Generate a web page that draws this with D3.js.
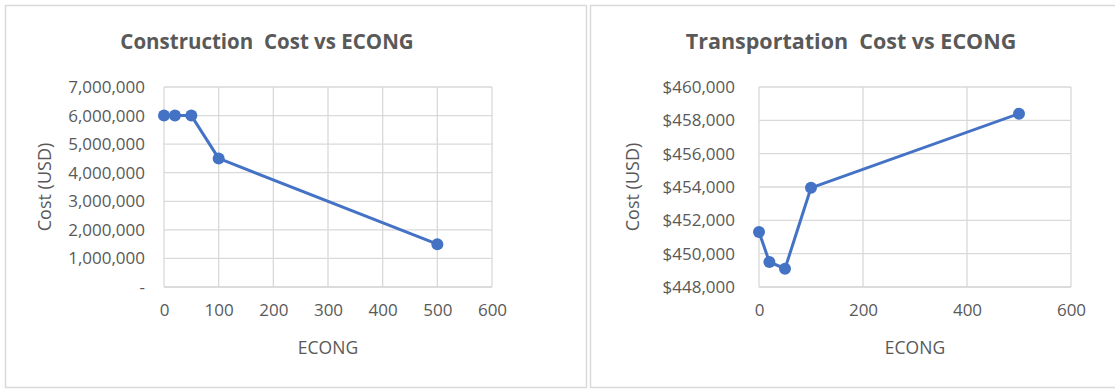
<!DOCTYPE html>
<html>
<head>
<meta charset="utf-8">
<script src="https://cdn.jsdelivr.net/npm/d3@7"></script>
<style>
  html, body { margin: 0; padding: 0; background: #fff; }
  svg { display: block; }
  text { font-family: "Open Sans", "Noto Sans", sans-serif; }
</style>
</head>
<body>
<svg id="chart" width="1115" height="390"></svg>
<script>
// ECONG values shared by both panels
const econg = [0, 20, 50, 100, 500];
// Construction cost (USD) for each ECONG value
const constructionCost = [6000000, 6000000, 6000000, 4500000, 1500000];
// Transportation cost (USD) for each ECONG value
const transportationCost = [451300, 449500, 449100, 453950, 458400];
// Axis ticks
const constructionYTicks = [0, 1000000, 2000000, 3000000, 4000000, 5000000, 6000000, 7000000];
const constructionXTicks = [0, 100, 200, 300, 400, 500, 600];
const transportationYTicks = [448000, 450000, 452000, 454000, 456000, 458000, 460000];
const transportationXTicks = [0, 200, 400, 600];

const svg = d3.select("#chart");
const lineColor = "#4472C4";
const gridColor = "#d9d9d9";
const textColor = "#595959";

// Panel frames
svg.append("rect").attr("x", 5.5).attr("y", 5.5).attr("width", 581).attr("height", 382)
  .attr("fill", "#fff").attr("stroke", "#d9d9d9").attr("stroke-width", 1.5);
svg.append("rect").attr("x", 590.5).attr("y", 5.5).attr("width", 530).attr("height", 382)
  .attr("fill", "#fff").attr("stroke", "#d9d9d9").attr("stroke-width", 1.5);

function drawPanel(cfg) {
  const g = svg.append("g");
  const x = d3.scaleLinear().domain([cfg.xTicks[0], cfg.xTicks[cfg.xTicks.length - 1]])
    .range([cfg.left, cfg.right]);
  const y = d3.scaleLinear().domain([cfg.yTicks[0], cfg.yTicks[cfg.yTicks.length - 1]])
    .range([cfg.bottom, cfg.top]);

  // Horizontal gridlines
  g.append("g").selectAll("line").data(cfg.yTicks).join("line")
    .attr("x1", cfg.left).attr("x2", cfg.right)
    .attr("y1", d => y(d)).attr("y2", d => y(d))
    .attr("stroke", gridColor).attr("stroke-width", 1.3);
  // Vertical gridlines
  g.append("g").selectAll("line").data(cfg.xTicks).join("line")
    .attr("x1", d => x(d)).attr("x2", d => x(d))
    .attr("y1", cfg.top).attr("y2", cfg.bottom)
    .attr("stroke", gridColor).attr("stroke-width", 1.3);

  // Y axis
  const yAxis = d3.axisLeft(y).tickValues(cfg.yTicks).tickSize(0).tickPadding(cfg.yPad)
    .tickFormat(cfg.yFormat);
  const ya = g.append("g").attr("transform", `translate(${cfg.left},0)`).call(yAxis);
  ya.select(".domain").remove();
  ya.selectAll("text").attr("fill", textColor).style("font-size", cfg.tickSize + "px")
    .style("font-family", '"Open Sans", sans-serif');

  // X axis
  const xAxis = d3.axisBottom(x).tickValues(cfg.xTicks).tickSize(0).tickPadding(cfg.xPad);
  const xa = g.append("g").attr("transform", `translate(0,${cfg.bottom})`).call(xAxis);
  xa.select(".domain").remove();
  xa.selectAll("text").attr("fill", textColor).style("font-size", cfg.tickSize + "px")
    .style("font-family", '"Open Sans", sans-serif');

  // Axis baseline
  g.append("line").attr("x1", cfg.left).attr("x2", cfg.right)
    .attr("y1", cfg.bottom).attr("y2", cfg.bottom)
    .attr("stroke", gridColor).attr("stroke-width", 1.3);

  // Series line and markers
  const pts = cfg.xs.map((v, i) => [v, cfg.ys[i]]);
  g.append("path").datum(pts)
    .attr("d", d3.line().x(d => x(d[0])).y(d => y(d[1])))
    .attr("fill", "none").attr("stroke", lineColor).attr("stroke-width", 3)
    .attr("stroke-linejoin", "round");
  g.append("g").selectAll("circle").data(pts).join("circle")
    .attr("cx", d => x(d[0])).attr("cy", d => y(d[1])).attr("r", 6)
    .attr("fill", lineColor);

  // Title
  g.append("text").attr("x", cfg.titleX).attr("y", 49).attr("text-anchor", "middle")
    .attr("fill", textColor).style("font-size", cfg.titleSize + "px").style("font-weight", "bold")
    .style("white-space", "pre").text(cfg.title);
  // Axis titles
  g.append("text").attr("x", (cfg.left + cfg.right) / 2).attr("y", 354)
    .attr("text-anchor", "middle").attr("fill", textColor).style("font-size", "17.5px")
    .text("ECONG");
  g.append("text").attr("transform", `translate(${cfg.yTitleX},${(cfg.top + cfg.bottom) / 2}) rotate(-90)`)
    .attr("text-anchor", "middle").attr("fill", textColor).style("font-size", "18px")
    .text("Cost (USD)");
}

drawPanel({
  title: "Construction  Cost vs ECONG",
  titleX: 267, titleSize: 20.5, tickSize: 17,
  left: 164, right: 492, top: 87, bottom: 287,
  xs: econg, ys: constructionCost,
  xTicks: constructionXTicks, yTicks: constructionYTicks,
  yFormat: d => d === 0 ? "-" : d3.format(",")(d),
  yPad: 19, xPad: 17, yTitleX: 51
});

drawPanel({
  title: "Transportation  Cost vs ECONG",
  titleX: 851, titleSize: 21.5, tickSize: 17,
  left: 759, right: 1071, top: 87, bottom: 287,
  xs: econg, ys: transportationCost,
  xTicks: transportationXTicks, yTicks: transportationYTicks,
  yFormat: d => "$" + d3.format(",")(d),
  yPad: 24, xPad: 17, yTitleX: 639
});
</script>
</body>
</html>
